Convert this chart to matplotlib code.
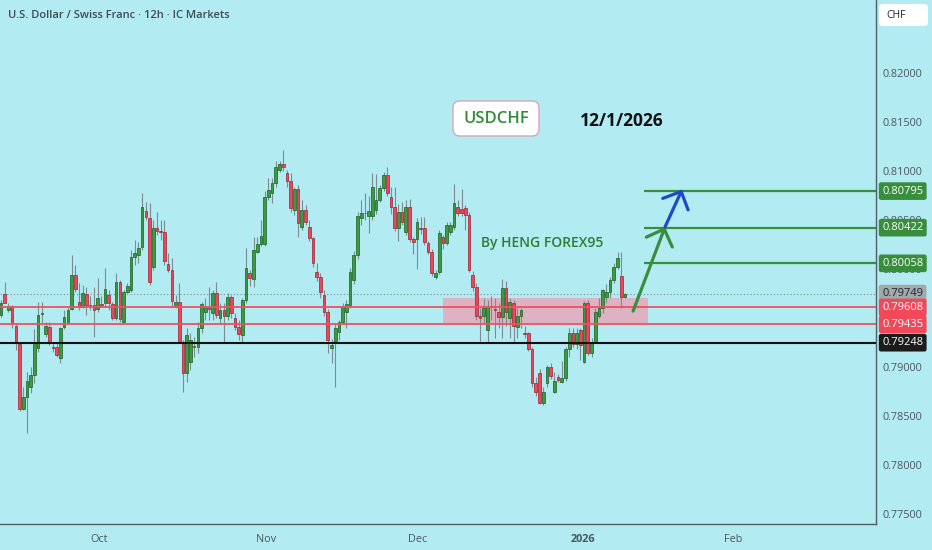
import numpy as np
import matplotlib
matplotlib.use("Agg")
import matplotlib.pyplot as plt
import matplotlib.transforms as mtransforms
from matplotlib.patches import FancyBboxPatch, Rectangle

plt.rcParams['font.family'] = ['Open Sans', 'DejaVu Sans']

# --- 12h candles USDCHF
opens = [0.79531, 0.79742, 0.79582, 0.79616, 0.79422, 0.79232, 0.78569, 0.78698, 0.78800, 0.78919,
         0.79191, 0.79541, 0.79337, 0.79412, 0.79208, 0.79201, 0.79089, 0.79405, 0.79463, 0.79589,
         0.79939, 0.79660, 0.79609, 0.79745, 0.79633, 0.79633, 0.79589, 0.79643, 0.79650, 0.79735,
         0.79640, 0.79497, 0.79864, 0.79463, 0.79769, 0.79786, 0.80126, 0.80143, 0.80221, 0.80588,
         0.80517, 0.80024, 0.80415, 0.80391, 0.80374, 0.80048, 0.79990, 0.79616, 0.79667, 0.79259,
         0.78935, 0.79055, 0.79210, 0.79208, 0.79395, 0.79565, 0.79600, 0.79548, 0.79752, 0.79497,
         0.79582, 0.79521, 0.79711, 0.79497, 0.79405, 0.79327, 0.79684, 0.79963, 0.79895, 0.80177,
         0.80255, 0.80260, 0.80731, 0.80772, 0.80874, 0.81010, 0.81071, 0.80976, 0.80901, 0.80602,
         0.80813, 0.80432, 0.80602, 0.80432, 0.80313, 0.79973, 0.79922, 0.79735, 0.79565, 0.79191,
         0.79259, 0.79361, 0.79463, 0.79565, 0.79633, 0.79888, 0.80143, 0.80517, 0.80568, 0.80540,
         0.80540, 0.80602, 0.80704, 0.80823, 0.80959, 0.80738, 0.80636, 0.80415, 0.80585, 0.80381,
         0.80636, 0.80303, 0.80303, 0.80415, 0.80415, 0.80269, 0.80177, 0.79922, 0.79973, 0.80323,
         0.80269, 0.80381, 0.80432, 0.80636, 0.80609, 0.80619, 0.80551, 0.79939, 0.79820, 0.79521,
         0.79521, 0.79378, 0.79623, 0.79590, 0.79565, 0.79514, 0.79803, 0.79497, 0.79657, 0.79412,
         0.79521, 0.79351, 0.79344, 0.79181, 0.78834, 0.78943, 0.78630, 0.78834, 0.78997, 0.78749,
         0.78902, 0.78851, 0.78885, 0.79181, 0.79344, 0.79235, 0.79378, 0.79055, 0.79657, 0.79140,
         0.79259, 0.79521, 0.79599, 0.79718, 0.79769, 0.79888, 0.80024, 0.79929, 0.79711]
highs = [0.79684, 0.79871, 0.79650, 0.79633, 0.79446, 0.79242, 0.78800, 0.78953, 0.79004, 0.79385,
         0.79667, 0.79667, 0.79463, 0.79463, 0.79242, 0.79242, 0.79412, 0.79582, 0.79616, 0.80143,
         0.80041, 0.79854, 0.79837, 0.79820, 0.79720, 0.79820, 0.79905, 0.79720, 0.80007, 0.79786,
         0.79667, 0.79956, 0.79888, 0.79786, 0.79854, 0.80194, 0.80296, 0.80279, 0.80772, 0.80687,
         0.80670, 0.80500, 0.80585, 0.80500, 0.80500, 0.80160, 0.80109, 0.79735, 0.79854, 0.79276,
         0.79395, 0.79350, 0.79310, 0.79463, 0.79667, 0.79701, 0.79820, 0.79786, 0.79871, 0.79650,
         0.79650, 0.79752, 0.79735, 0.79548, 0.79480, 0.79700, 0.80211, 0.79990, 0.80330, 0.80330,
         0.80500, 0.80800, 0.80925, 0.80925, 0.81100, 0.81100, 0.81214, 0.81010, 0.80976, 0.80840,
         0.80860, 0.80700, 0.80650, 0.80500, 0.80330, 0.80058, 0.79960, 0.79786, 0.79590, 0.79290,
         0.79450, 0.79480, 0.79650, 0.79680, 0.80010, 0.80180, 0.80580, 0.80700, 0.80772, 0.80740,
         0.80980, 0.80970, 0.80860, 0.80990, 0.81040, 0.80840, 0.80840, 0.80660, 0.80680, 0.80700,
         0.80710, 0.80330, 0.80520, 0.80530, 0.80530, 0.80290, 0.80200, 0.79990, 0.80400, 0.80350,
         0.80480, 0.80480, 0.80870, 0.80700, 0.80820, 0.80650, 0.80580, 0.79980, 0.79860, 0.79600,
         0.79700, 0.79680, 0.79720, 0.79700, 0.79650, 0.79900, 0.79880, 0.79700, 0.79680, 0.79600,
         0.79600, 0.79420, 0.79360, 0.79200, 0.78900, 0.78980, 0.78800, 0.79020, 0.79040, 0.78950,
         0.78930, 0.79060, 0.79200, 0.79400, 0.79400, 0.79400, 0.79400, 0.79670, 0.79680, 0.79300,
         0.79600, 0.79700, 0.79800, 0.79850, 0.79920, 0.80060, 0.80170, 0.80170, 0.79760]
lows = [0.79514, 0.79650, 0.79565, 0.79395, 0.79174, 0.78555, 0.78562, 0.78324, 0.78732, 0.78834,
        0.79157, 0.79429, 0.79310, 0.79225, 0.79157, 0.79106, 0.79038, 0.79385, 0.79446, 0.79582,
        0.79769, 0.79582, 0.79599, 0.79531, 0.79582, 0.79310, 0.79565, 0.79616, 0.79616, 0.79582,
        0.79480, 0.79480, 0.79463, 0.79446, 0.79752, 0.79769, 0.80041, 0.80058, 0.80194, 0.80500,
        0.79837, 0.79990, 0.80350, 0.80296, 0.80040, 0.79970, 0.79616, 0.79600, 0.79240, 0.78749,
        0.78850, 0.78970, 0.79100, 0.79140, 0.79350, 0.79480, 0.79480, 0.79480, 0.79500, 0.79450,
        0.79260, 0.79480, 0.79500, 0.79380, 0.79276, 0.79250, 0.79650, 0.79830, 0.79820, 0.80160,
        0.80230, 0.80230, 0.80700, 0.80670, 0.80840, 0.80990, 0.81000, 0.80840, 0.80580, 0.80550,
        0.80330, 0.80400, 0.80450, 0.80290, 0.80020, 0.79880, 0.79700, 0.79520, 0.79140, 0.79040,
        0.78800, 0.79280, 0.79440, 0.79400, 0.79600, 0.79850, 0.80100, 0.80450, 0.80500, 0.80364,
        0.80500, 0.80560, 0.80680, 0.80800, 0.80740, 0.80560, 0.80390, 0.80290, 0.80450, 0.80350,
        0.80280, 0.80150, 0.80000, 0.80360, 0.80250, 0.80150, 0.79930, 0.79900, 0.79950, 0.80200,
        0.80240, 0.80350, 0.80400, 0.80540, 0.80540, 0.80400, 0.79970, 0.79780, 0.79480, 0.79270,
        0.79440, 0.79260, 0.79480, 0.79300, 0.79400, 0.79300, 0.79420, 0.79300, 0.79260, 0.79300,
        0.79400, 0.79300, 0.79160, 0.78800, 0.78700, 0.78620, 0.78610, 0.78800, 0.78880, 0.78730,
        0.78850, 0.78840, 0.78860, 0.79100, 0.79200, 0.79180, 0.79070, 0.79040, 0.79120, 0.79100,
        0.79240, 0.79500, 0.79550, 0.79650, 0.79700, 0.79860, 0.80000, 0.79600, 0.79700]
closes = [0.79650, 0.79657, 0.79623, 0.79453, 0.79242, 0.78569, 0.78698, 0.78861, 0.78919, 0.79248,
          0.79531, 0.79548, 0.79419, 0.79248, 0.79191, 0.79123, 0.79395, 0.79507, 0.79582, 0.79939,
          0.79796, 0.79609, 0.79752, 0.79633, 0.79626, 0.79582, 0.79701, 0.79636, 0.79793, 0.79650,
          0.79497, 0.79864, 0.79490, 0.79769, 0.79827, 0.80126, 0.80167, 0.80211, 0.80636, 0.80527,
          0.79871, 0.80415, 0.80391, 0.80381, 0.80085, 0.79990, 0.79677, 0.79667, 0.79259, 0.78935,
          0.79327, 0.79276, 0.79200, 0.79395, 0.79643, 0.79616, 0.79590, 0.79759, 0.79531, 0.79582,
          0.79521, 0.79711, 0.79548, 0.79405, 0.79337, 0.79684, 0.80007, 0.79905, 0.80194, 0.80255,
          0.80340, 0.80731, 0.80806, 0.80874, 0.81044, 0.81071, 0.81037, 0.80901, 0.80619, 0.80813,
          0.80473, 0.80602, 0.80483, 0.80313, 0.80058, 0.79922, 0.79769, 0.79565, 0.79276, 0.79225,
          0.79395, 0.79463, 0.79616, 0.79643, 0.79973, 0.80143, 0.80541, 0.80568, 0.80575, 0.80595,
          0.80833, 0.80704, 0.80823, 0.80959, 0.80772, 0.80636, 0.80415, 0.80585, 0.80483, 0.80636,
          0.80303, 0.80279, 0.80483, 0.80410, 0.80279, 0.80177, 0.79956, 0.79963, 0.80371, 0.80269,
          0.80449, 0.80449, 0.80677, 0.80575, 0.80575, 0.80551, 0.79990, 0.79820, 0.79521, 0.79500,
          0.79599, 0.79616, 0.79609, 0.79585, 0.79514, 0.79803, 0.79565, 0.79667, 0.79419, 0.79521,
          0.79582, 0.79337, 0.79181, 0.78841, 0.78749, 0.78637, 0.78749, 0.78997, 0.78909, 0.78861,
          0.78868, 0.78885, 0.79181, 0.79344, 0.79235, 0.79344, 0.79225, 0.79657, 0.79147, 0.79259,
          0.79565, 0.79599, 0.79786, 0.79769, 0.79888, 0.80024, 0.80109, 0.79711, 0.79749]

month_ticks = [26.4, 71.4, 112.3, 156.7, 197.1]
month_labels = ['Oct', 'Nov', 'Dec', '2026', 'Feb']
price_ticks = [0.775, 0.780, 0.785, 0.790, 0.795, 0.800, 0.805, 0.810, 0.815, 0.820]

target_levels = [0.80795, 0.80422, 0.80058]
support_levels = [0.79608, 0.79435]
base_level = 0.79248
last_price = 0.79749
zone_bars = (119.0, 174.2)
zone_prices = (0.79449, 0.79704)
levels_start = 173.1
green_arrow = [(170.2, 0.79571), (178.8, 0.80429)]
blue_arrow = [(178.8, 0.80429), (183.4, 0.80812)]

bg = '#b2ebf2'
col_up, col_up_edge = '#3c9a40', '#1d5e22'
col_dn, col_dn_edge = '#e8485c', '#a3202f'
col_wick = '#7c8b90'
col_green_line = '#388e3c'
col_red_line = '#f0505f'

fig = plt.figure(figsize=(9.32, 5.5), dpi=100, facecolor=bg)
ax = fig.add_axes([0, 26 / 550, 876 / 932, 524 / 550], facecolor=bg)

o = np.array(opens); h = np.array(highs); l = np.array(lows); c = np.array(closes)
x = np.arange(len(c))
up = c >= o

# zone behind the candles
ax.add_patch(Rectangle((zone_bars[0], zone_prices[0]), zone_bars[1] - zone_bars[0],
                       zone_prices[1] - zone_prices[0], fc='#ddb3c3', ec='none', zorder=1))

ax.axhline(last_price, color='#7f8f95', lw=0.8, ls=(0, (1, 2)), zorder=1.5)

ax.vlines(x, l, h, color=col_wick, lw=0.8, zorder=2)
ax.bar(x[up], c[up] - o[up], bottom=o[up], width=0.72, color=col_up,
       edgecolor=col_up_edge, linewidth=0.5, zorder=3)
ax.bar(x[~up], c[~up] - o[~up], bottom=o[~up], width=0.72, color=col_dn,
       edgecolor=col_dn_edge, linewidth=0.5, zorder=3)

for lv in support_levels:
    ax.axhline(lv, color=col_red_line, lw=1.3, zorder=4)
ax.axhline(base_level, color='#111111', lw=1.5, zorder=4)
ax.hlines(target_levels, levels_start, 240, color=col_green_line, lw=1.6, zorder=4)

for pts, col in [(green_arrow, col_green_line), (blue_arrow, '#1f49c9')]:
    ax.annotate('', xy=pts[1], xytext=pts[0],
                arrowprops=dict(arrowstyle='->,head_length=0.5,head_width=0.5', color=col,
                                lw=2.3, mutation_scale=20, shrinkA=0, shrinkB=0),
                zorder=5)

ax.set_xlim(-0.27, 235.6)
ax.set_ylim(0.77398, 0.82745)

for s in ['top', 'left']:
    ax.spines[s].set_visible(False)
for s in ['right', 'bottom']:
    ax.spines[s].set_color('#4f5f66')
    ax.spines[s].set_linewidth(1.0)

ax.yaxis.tick_right()
ax.set_yticks(price_ticks)
ax.set_yticklabels([f'{p:.5f}' for p in price_ticks])
ax.set_xticks(month_ticks)
ax.set_xticklabels(month_labels)
ax.tick_params(axis='y', length=0, pad=5, labelsize=7.8, labelcolor='#4a585e')
ax.tick_params(axis='x', length=0, pad=7, labelsize=7.8, labelcolor='#4a585e')
for lab in ax.get_xticklabels():
    if lab.get_text() == '2026':
        lab.set_fontweight('bold')

# price tags on the right scale
trans = mtransforms.blended_transform_factory(ax.transAxes, ax.transData)
tags = [(lv, col_green_line, 'white') for lv in target_levels]
tags += [(last_price, '#a2a9ad', '#1e2428')]
tags += [(lv, '#f2495a', 'white') for lv in support_levels]
tags += [(base_level, '#1c1c1c', 'white')]
for lv, fc, tc in tags:
    ax.text(1.007, lv, f'{lv:.5f}', transform=trans, ha='left', va='center', fontsize=8,
            color=tc, clip_on=False, zorder=6,
            bbox=dict(boxstyle='round,pad=0.3,rounding_size=0.2', fc=fc, ec='none'))

# header + notes
fig.text(8 / 932, 1 - 15 / 550, 'U.S. Dollar / Swiss Franc · 12h · IC Markets', fontsize=8,
         color='#3d4b55', fontweight='semibold', va='center', ha='left')
fig.patches.append(FancyBboxPatch((8.79, 5.24), 0.49, 0.22, boxstyle='round,pad=0,rounding_size=0.04',
                                  fc='white', ec='none', transform=fig.dpi_scale_trans))
fig.text(886 / 932, 1 - 15 / 550, 'CHF', fontsize=7.5, color='#1e2428', va='center', ha='left')

fig.patches.append(FancyBboxPatch((4.53, 4.14), 0.86, 0.35, boxstyle='round,pad=0,rounding_size=0.07',
                                  fc='white', ec='#d6a7b8', lw=1.0, transform=fig.dpi_scale_trans))
fig.text(496 / 932, 1 - 119 / 550, 'USDCHF', fontsize=12, color='#2e8b3a', va='center', ha='center',
         fontweight='semibold')
fig.text(622 / 932, 1 - 121 / 550, '12/1/2026', fontsize=12.5, color='#111111', va='center',
         ha='center', fontweight='bold')
fig.text(542 / 932, 1 - 243 / 550, 'By HENG FOREX95', fontsize=10, color='#2e7d32', va='center',
         ha='center', fontweight='semibold')

fig.savefig('out.png', dpi=100, facecolor=bg)
